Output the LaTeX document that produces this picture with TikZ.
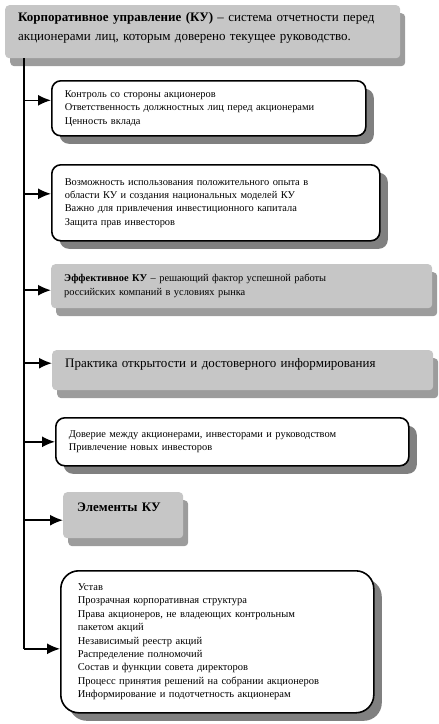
\documentclass[tikz,border=0pt]{standalone}
\usepackage{fontspec}
\setmainfont{Liberation Serif}
\usetikzlibrary{shadows,arrows.meta}

\definecolor{boxgray}{HTML}{C6C6C6}
\definecolor{extrude}{HTML}{9C9C9C}
\definecolor{shadowgray}{HTML}{808080}

\begin{document}
\begin{tikzpicture}[x=1pt,y=-1pt,>={Latex[length=13pt,width=11pt]}]
  \tikzstyle{wbox}=[draw,line width=1.6pt,fill=white,rounded corners=9pt,anchor=north west,
    inner xsep=13pt,align=left,font=\fontsize{10.4}{13.4}\selectfont,
    drop shadow={shadow xshift=8pt,shadow yshift=-8pt,fill=shadowgray,opacity=1}]
  \tikzstyle{gbox}=[fill=boxgray,rounded corners=4pt,anchor=north west,
    inner xsep=13pt,align=left,font=\fontsize{10.4}{14}\selectfont,
    drop shadow={shadow xshift=5pt,shadow yshift=-8pt,fill=extrude,opacity=1}]
  \tikzstyle{arr}=[->,line width=1.6pt]

  \useasboundingbox (0,0) rectangle (439,724);

  % head of the scheme
  \node[gbox,text width=369pt,minimum height=53pt,text depth=29pt,
        font=\fontsize{13}{19}\selectfont] (head) at (5,5)
    {\textbf{Корпоративное управление (КУ)} -- система отчетности перед\\
     акционерами лиц, которым доверено текущее руководство.};

  \node[wbox,text width=288pt,minimum height=55pt] (ctrl) at (51,80)
    {Контроль со стороны акционеров\\
     Ответственность должностных лиц перед акционерами\\
     Ценность вклада};

  \node[wbox,text width=302pt,minimum height=76pt] (opt) at (51,164)
    {Возможность использования положительного опыта в\\
     области КУ и создания национальных моделей КУ\\
     Важно для привлечения инвестиционного капитала\\
     Защита прав инвесторов};

  \node[gbox,text width=355pt,minimum height=44pt] (eff) at (51,264)
    {\textbf{Эффективное КУ} -- решающий фактор успешной работы\\
     российских компаний в условиях рынка};

  \node[gbox,text width=355pt,minimum height=40pt,text depth=14pt,
        font=\fontsize{13}{15}\selectfont] (prac) at (52,350)
    {Практика открытости и достоверного информирования};

  \node[wbox,text width=327pt,minimum height=48pt] (trust) at (55,417)
    {Доверие между акционерами, инвесторами и руководством\\
     Привлечение новых инвесторов};

  \node[gbox,text width=92pt,minimum height=46pt,text depth=16pt,inner xsep=14pt,
        font=\fontsize{13}{15}\selectfont] (ku) at (63,492)
    {\textbf{Элементы КУ}};

  \node[wbox,text width=279pt,minimum height=142pt,rounded corners=18pt,inner xsep=17pt,
        font=\fontsize{10.5}{13.4}\selectfont] (elem) at (60,570)
    {Устав\\
     Прозрачная корпоративная структура\\
     Права акционеров, не владеющих контрольным\\
     пакетом акций\\
     Независимый реестр акций\\
     Распределение полномочий\\
     Состав и функции совета директоров\\
     Процесс принятия решений на собрании акционеров\\
     Информирование и подотчетность акционерам};

  % trunk and branches
  \coordinate (trunk) at (24,0);
  \draw[line width=1.6pt] (trunk |- head.south) -- ([yshift=-7pt]trunk |- elem.west);
  \foreach \n/\dy in {ctrl/8,opt/9,eff/-4,prac/7,trust/0,ku/-5,elem/-7}
    { \draw[arr] ([yshift=\dy pt]trunk |- \n.west) -- ([yshift=\dy pt]\n.west); }
\end{tikzpicture}
\end{document}
